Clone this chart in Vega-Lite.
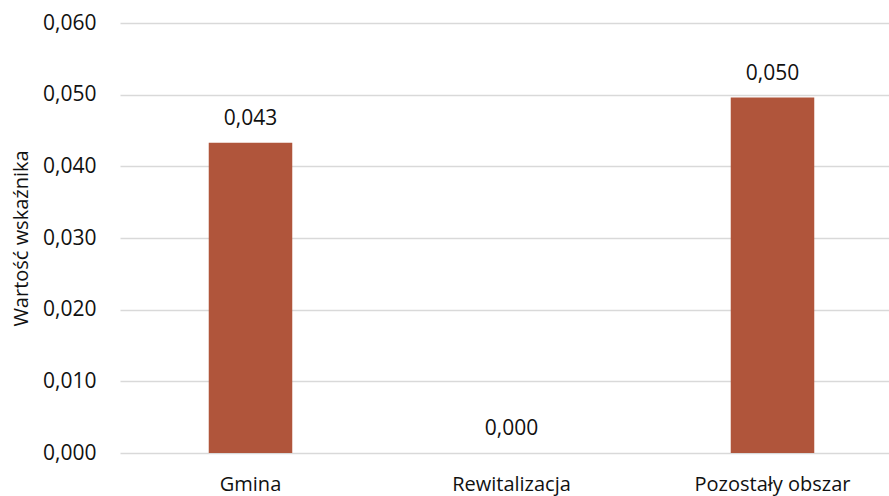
{
  "$schema": "https://vega.github.io/schema/vega-lite/v6.json",
  "autosize": {"type": "none"},
  "padding": {"left": 120, "top": 23, "right": 0, "bottom": 43},
  "width": 769,
  "height": 430,
  "background": "white",
  "config": {
    "locale": {"number": {"decimal": ",", "thousands": " ", "grouping": [3], "currency": ["", " zł"]}},
    "view": {"stroke": null},
    "font": "Open Sans"
  },
  "data": {
    "values": [
      {"kategoria": "Gmina", "wartosc": 0.0433},
      {"kategoria": "Rewitalizacja", "wartosc": 0.0},
      {"kategoria": "Pozostały obszar", "wartosc": 0.0496}
    ]
  },
  "encoding": {
    "x": {
      "field": "kategoria",
      "type": "nominal",
      "sort": null,
      "scale": {"range": [0, 783], "paddingInner": 0.68, "paddingOuter": 0.34},
      "axis": {
        "title": null,
        "labelAngle": 0,
        "labelFont": "Open Sans",
        "labelFontSize": 20,
        "labelColor": "#111111",
        "labelPadding": 21,
        "ticks": false,
        "domain": false
      }
    },
    "y": {
      "field": "wartosc",
      "type": "quantitative",
      "scale": {"domain": [0, 0.06], "nice": false},
      "axis": {
        "title": "Wartość wskaźnika",
        "titleFont": "Open Sans",
        "titleFontSize": 20,
        "titleFontWeight": "normal",
        "titleColor": "#111111",
        "titlePadding": 11,
        "values": [0, 0.01, 0.02, 0.03, 0.04, 0.05, 0.06],
        "format": ".3f",
        "labelFont": "Open Sans",
        "labelFontSize": 21,
        "labelColor": "#111111",
        "labelPadding": 24,
        "ticks": false,
        "domain": false,
        "grid": true,
        "gridColor": "#d9d9d9",
        "gridWidth": 1.5
      }
    }
  },
  "layer": [
    {"mark": {"type": "bar", "color": "#b0553b"}},
    {
      "mark": {"type": "text", "baseline": "alphabetic", "dy": -18, "fontSize": 21, "font": "Open Sans", "color": "#111111"},
      "encoding": {"text": {"field": "wartosc", "type": "quantitative", "format": ".3f"}}
    }
  ]
}
